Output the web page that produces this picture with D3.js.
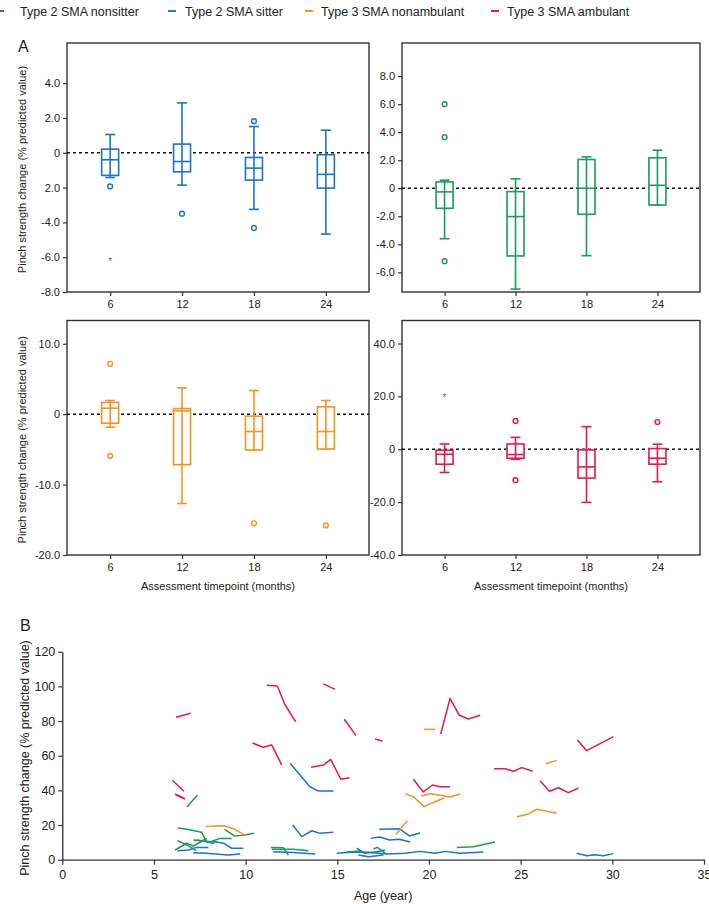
<!DOCTYPE html>
<html>
<head>
<meta charset="utf-8">
<script src="https://cdnjs.cloudflare.com/ajax/libs/d3/7.8.5/d3.min.js"></script>
<style>
  body { margin: 0; background: #fff; }
  svg { display: block; font-family: "Liberation Sans", Arial, sans-serif; }
</style>
</head>
<body>
<script>
// ---- data ----
const groups = ["Type 2 SMA nonsitter", "Type 2 SMA sitter", "Type 3 SMA nonambulant", "Type 3 SMA ambulant"];
const timepoints = ["6", "12", "18", "24"];

// box stats per timepoint: [lower whisker, Q1, median, Q3, upper whisker]
const nonsitterStats = [[-1.42, -1.3, -0.4, 0.21, 1.05], [-1.86, -1.09, -0.5, 0.5, 2.87], [-3.25, -1.57, -0.88, -0.27, 1.51], [-4.67, -2.03, -1.24, -0.11, 1.3]];
const nonsitterOutliers = [[-1.93], [-3.5], [1.82, -4.32], []];
const nonsitterExtremes = [[-6.15], [], [], []];

const sitterStats = [[-3.6, -1.43, -0.26, 0.45, 0.57], [-7.19, -4.83, -2.02, -0.24, 0.67], [-4.81, -1.86, 0, 2.05, 2.24], [-1.19, -1.19, 0.21, 2.17, 2.71]];
const sitterOutliers = [[6.0, 3.64, -5.2], [], [], []];
const sitterExtremes = [[], [], [], []];

const nonambStats = [[-1.85, -1.28, 0.85, 1.66, 1.94], [-12.7, -7.17, 0.47, 0.8, 3.74], [-5.08, -5.08, -2.47, -0.28, 3.36], [-4.94, -4.94, -2.47, 1.04, 1.94]];
const nonambOutliers = [[7.15, -5.93], [], [-15.5], [-15.8]];
const nonambExtremes = [[], [], [], []];

const ambStats = [[-8.8, -5.66, -1.9, -0.38, 2.0], [-3.8, -3.4, -2.0, 2.0, 4.5], [-20.1, -10.9, -6.67, -0.25, 8.55], [-12.3, -5.66, -3.4, 0.26, 1.9]];
const ambOutliers = [[], [10.7, -11.7], [], [10.3]];
const ambExtremes = [[20.4], [], [], []];

// tick values / labels of panel A
const tlTicks = [4, 2, 0, -2, -4, -6, -8];
const tlLabels = ["4.0", "2.0", "0", "2.0", "-4.0", "-6.0", "-8.0"];
const trTicks = [8, 6, 4, 2, 0, -2, -4, -6];
const trLabels = ["8.0", "6.0", "4.0", "2.0", "0", "-2.0", "-4.0", "-6.0"];
const blTicks = [10, 0, -10, -20];
const blLabels = ["10.0", "0", "-10.0", "-20.0"];
const brTicks = [40, 20, 0, -20, -40];
const brLabels = ["40.0", "20.0", "0", "-20.0", "-40.0"];

// panel B: individual trajectories [age, value]
const nonsitterTracks = [
  [[12.42, 55.6], [13.51, 42.1], [13.97, 39.6], [14.79, 39.6]],
  [[12.57, 20], [13.06, 13.3], [13.61, 16.7], [14.06, 15.2], [14.79, 15.8]],
  [[17.29, 17.5], [18.38, 17.9], [18.93, 13.7], [19.51, 15.4]],
  [[16.82, 12.3], [17.33, 13.1], [17.84, 11.4], [18.38, 11.8], [18.97, 10.2]],
  [[14.97, 3.7], [15.97, 4.4], [16.69, 4.3], [17.7, 3.3], [18.7, 3.7], [19.51, 4.8], [20.33, 3.7], [20.88, 4.8], [21.7, 3.7], [22.97, 4.4]],
  [[28.06, 3.7], [28.61, 2.3], [29.06, 2.9], [29.51, 2.3], [30.06, 3.5]],
  [[16.06, 6.6], [16.51, 3.7], [17.15, 4.6], [17.6, 5.6]],
  [[16.15, 2.7], [16.7, 1.7], [17.51, 2.7]],
  [[6.28, 5.2], [6.88, 5.6], [7.33, 7.1], [7.97, 7.1]],
  [[7.33, 11.4], [7.88, 10.4], [8.33, 10.4], [8.79, 9.5], [9.24, 6.6], [9.88, 6.6]],
  [[7.15, 4.0], [7.88, 3.7], [8.51, 3.1], [9.06, 2.7], [9.69, 3.3]],
  [[11.5, 4.6], [12.6, 4.2], [13.8, 3.3]]
];
const sitterTracks = [
  [[6.8, 30.4], [7.37, 37.3]],
  [[6.3, 18.3], [6.8, 17.6], [7.6, 15.8], [7.9, 10], [8.3, 9.5]],
  [[6.15, 5.6], [6.79, 9.5], [7.15, 7.9], [7.88, 12.3]],
  [[6.28, 11.0], [6.79, 8.5], [7.3, 5.2]],
  [[7.15, 11.4], [8.1, 10.4], [8.6, 12.3], [9.24, 12.3]],
  [[8.85, 17.5], [9.4, 13.6], [9.95, 14.2], [10.45, 15.3]],
  [[11.38, 7.1], [12.06, 6.9], [12.33, 2.7]],
  [[11.42, 6.0], [12.6, 6.0], [13.42, 5.2]],
  [[21.52, 7.1], [22.42, 7.5], [23.6, 10.2]],
  [[15.5, 4.4], [16.24, 5.0]],
  [[16.97, 6.2], [17.18, 7.1], [17.7, 3.1]]
];
const nonambTracks = [
  [[7.82, 19.1], [8.82, 19.6], [9.33, 17.9], [10.02, 13.9]],
  [[19.73, 75.2], [20.33, 75.2]],
  [[26.37, 55.4], [26.97, 57.3]],
  [[18.7, 38.1], [19.2, 36], [19.73, 30.6], [20.82, 35.6]],
  [[19.57, 36.8], [20.11, 38.1], [21.15, 36.2], [21.7, 37.9]],
  [[24.79, 24.8], [25.37, 26.2], [25.88, 29.1], [26.97, 26.8]],
  [[18.19, 14.6], [18.82, 22.5]]
];
const ambTracks = [
  [[6.2, 82.2], [7.0, 84.5]],
  [[11.15, 100.6], [11.73, 100.2], [12.15, 89.3], [12.73, 79.6]],
  [[14.24, 101.4], [14.88, 98.3]],
  [[15.38, 81], [16.02, 71.6]],
  [[10.37, 67.3], [10.96, 64.9], [11.42, 66.2], [11.97, 54.6]],
  [[13.57, 53.3], [14.24, 54.6], [14.64, 57.9], [15.19, 46.4], [15.66, 47.3]],
  [[6.0, 45.8], [6.64, 39.5]],
  [[6.15, 37.9], [6.65, 35.4]],
  [[6.2, 37.3], [6.7, 35.0]],
  [[17.06, 69.6], [17.46, 68.5]],
  [[20.64, 72.5], [21.15, 93.1], [21.64, 83.5], [22.15, 81.2], [22.79, 83.3]],
  [[19.15, 46.4], [19.69, 39.1], [20.2, 43.1], [20.6, 42.1], [21.15, 42.1]],
  [[23.55, 52.5], [24.15, 52.5], [24.6, 51], [25.06, 53.1], [25.66, 51]],
  [[26.06, 45.6], [26.57, 39.5], [27.06, 41.5], [27.6, 38.7], [28.15, 41.2]],
  [[28.1, 69.1], [28.6, 62.9], [30.06, 71]]
];
const ageTicks = [0, 5, 10, 15, 20, 25, 30, 35];
const pinchTicks = [0, 20, 40, 60, 80, 100, 120];

// ---- styles ----
const colors = ["#1b74c6", "#1b9c5e", "#f7931e", "#e8184c"];
const axisColor = "#333";
const textColor = "#222";
const W = 709, H = 904;

const svg = d3.select("body").append("svg").attr("width", W).attr("height", H);

// legend : dash position and text position of each entry
const legendDash = [[-4, 4], [168, 176], [305, 313], [491, 499]];
const legendText = [20, 185, 321, 507];
groups.forEach((name, i) => {
  svg.append("line").attr("x1", legendDash[i][0]).attr("x2", legendDash[i][1]).attr("y1", 11).attr("y2", 11)
    .attr("stroke", colors[i]).attr("stroke-width", 2);
  svg.append("text").attr("x", legendText[i]).attr("y", 15.5).attr("font-size", 12.5)
    .attr("fill", textColor).text(name);
});

svg.append("text").attr("x", 18).attr("y", 52).attr("font-size", 16).attr("fill", textColor).text("A");
svg.append("text").attr("x", 20).attr("y", 631).attr("font-size", 16).attr("fill", textColor).text("B");

function styleAxis(g, size) {
  g.selectAll("path").attr("stroke", axisColor).attr("stroke-width", 1.3);
  g.selectAll("line").attr("stroke", axisColor).attr("stroke-width", 1.2);
  g.selectAll("text").attr("fill", textColor).attr("font-size", size).attr("font-family", null);
}

function drawBoxPanel(p) {
  const x = d3.scalePoint().domain(timepoints).range([p.x0, p.x1]).padding(0.6);
  const y = d3.scaleLinear().domain(p.domain).range([p.y1, p.y0]);
  const g = svg.append("g");
  const col = colors[p.group];

  g.append("rect").attr("x", p.x0).attr("y", p.y0)
    .attr("width", p.x1 - p.x0).attr("height", p.y1 - p.y0)
    .attr("fill", "none").attr("stroke", axisColor).attr("stroke-width", 1.4);

  const ya = g.append("g").attr("transform", `translate(${p.x0},0)`)
    .call(d3.axisLeft(y).tickValues(p.ticks).tickFormat((d, i) => p.labels[i]).tickSize(4).tickPadding(3).tickSizeOuter(0));
  ya.select(".domain").remove();
  styleAxis(ya, 11);

  const xa = g.append("g").attr("transform", `translate(0,${p.y1})`)
    .call(d3.axisBottom(x).tickSize(4).tickPadding(4).tickSizeOuter(0));
  xa.select(".domain").remove();
  styleAxis(xa, 11);

  g.append("line").attr("x1", p.x0).attr("x2", p.x1).attr("y1", y(0)).attr("y2", y(0))
    .attr("stroke", "#111").attr("stroke-width", 1.5).attr("stroke-dasharray", "3,3");

  const bw = 17, cw = 10;
  p.stats.forEach((s, i) => {
    const cx = x(timepoints[i]);
    const b = g.append("g").attr("stroke", col).attr("stroke-width", 1.6).attr("fill", "none");
    b.append("line").attr("x1", cx).attr("x2", cx).attr("y1", y(s[0])).attr("y2", y(s[4]));
    b.append("line").attr("x1", cx - cw / 2).attr("x2", cx + cw / 2).attr("y1", y(s[0])).attr("y2", y(s[0]));
    b.append("line").attr("x1", cx - cw / 2).attr("x2", cx + cw / 2).attr("y1", y(s[4])).attr("y2", y(s[4]));
    b.append("rect").attr("x", cx - bw / 2).attr("width", bw)
      .attr("y", y(s[3])).attr("height", y(s[1]) - y(s[3])).attr("fill", "#fff");
    b.append("line").attr("x1", cx).attr("x2", cx).attr("y1", y(s[1])).attr("y2", y(s[3]));
    b.append("line").attr("x1", cx - bw / 2).attr("x2", cx + bw / 2).attr("y1", y(s[2])).attr("y2", y(s[2]));
    p.outliers[i].forEach(v => {
      g.append("circle").attr("cx", cx).attr("cy", y(v)).attr("r", 2.4)
        .attr("fill", "#fff").attr("stroke", col).attr("stroke-width", 1.4);
    });
    p.extremes[i].forEach(v => {
      g.append("text").attr("x", cx).attr("y", y(v) + 5.5).attr("text-anchor", "middle")
        .attr("font-size", 10).attr("fill", "#666").text("*");
    });
  });

  if (p.xTitle) {
    g.append("text").attr("x", (p.x0 + p.x1) / 2).attr("y", p.y1 + 35)
      .attr("text-anchor", "middle").attr("font-size", 11).attr("fill", textColor)
      .text("Assessment timepoint (months)");
  }
  if (p.yTitle) {
    g.append("text").attr("transform", `translate(26,${(p.y0 + p.y1) / 2 + 2}) rotate(-90)`)
      .attr("text-anchor", "middle").attr("font-size", 11).attr("fill", textColor)
      .text("Pinch strength change (% predicted value)");
  }
}

drawBoxPanel({ group: 0, x0: 67, x1: 369, y0: 43, y1: 292, domain: [-8, 6.31], ticks: tlTicks, labels: tlLabels,
  stats: nonsitterStats, outliers: nonsitterOutliers, extremes: nonsitterExtremes, yTitle: true });
drawBoxPanel({ group: 1, x0: 402, x1: 700, y0: 43, y1: 292, domain: [-7.4, 10.36], ticks: trTicks, labels: trLabels,
  stats: sitterStats, outliers: sitterOutliers, extremes: sitterExtremes });
drawBoxPanel({ group: 2, x0: 67, x1: 369, y0: 320.5, y1: 555, domain: [-20, 13.3], ticks: blTicks, labels: blLabels,
  stats: nonambStats, outliers: nonambOutliers, extremes: nonambExtremes, yTitle: true, xTitle: true });
drawBoxPanel({ group: 3, x0: 402, x1: 700, y0: 320.5, y1: 555, domain: [-40, 48.7], ticks: brTicks, labels: brLabels,
  stats: ambStats, outliers: ambOutliers, extremes: ambExtremes, xTitle: true });

// ---- panel B ----
const xB = d3.scaleLinear().domain([0, 35]).range([62.3, 704]);
const yB = d3.scaleLinear().domain([0, 120]).range([859.7, 651.7]);
const gB = svg.append("g");

const line = d3.line().x(d => xB(d[0])).y(d => yB(d[1]));
[nonsitterTracks, sitterTracks, nonambTracks, ambTracks].forEach((tracks, i) => {
  gB.append("g").selectAll("path").data(tracks).join("path")
    .attr("d", line).attr("fill", "none").attr("stroke", colors[i])
    .attr("stroke-width", 1.5).attr("stroke-linejoin", "round");
});

const xaB = gB.append("g").attr("transform", `translate(0,${yB(0)})`)
  .call(d3.axisBottom(xB).tickValues(ageTicks).tickSize(5).tickPadding(5).tickSizeOuter(0));
styleAxis(xaB, 12.5);
const yaB = gB.append("g").attr("transform", `translate(${xB(0)},0)`)
  .call(d3.axisLeft(yB).tickValues(pinchTicks).tickSize(4).tickPadding(3).tickSizeOuter(0));
styleAxis(yaB, 12.5);

gB.append("text").attr("x", (62.3 + 704) / 2).attr("y", 900).attr("text-anchor", "middle")
  .attr("font-size", 12.5).attr("fill", textColor).text("Age (year)");
gB.append("text").attr("transform", `translate(29,758) rotate(-90)`).attr("text-anchor", "middle")
  .attr("font-size", 12.5).attr("fill", textColor).text("Pinch strength change (% predicted value)");
</script>
</body>
</html>
